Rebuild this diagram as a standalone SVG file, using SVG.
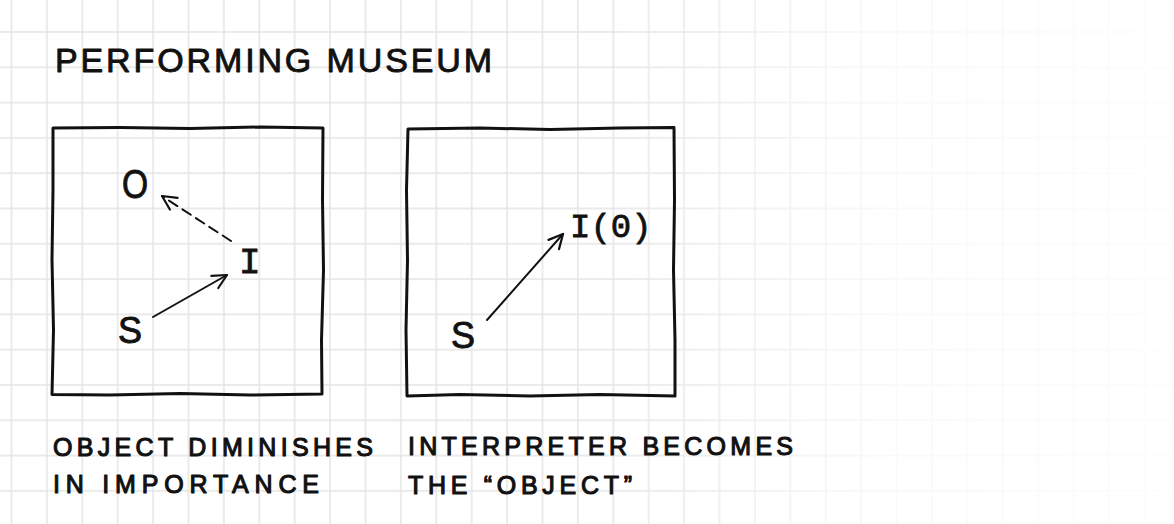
<svg xmlns="http://www.w3.org/2000/svg" width="1174" height="524" viewBox="0 0 1174 524">
<style>
.hand{font-family:"Liberation Sans",Arial,sans-serif;fill:#111;stroke:#111;stroke-width:0.9;stroke-linejoin:round;}
.cap{stroke-width:1.1;}
.mono{font-family:"Liberation Mono","Courier New",monospace;fill:#111;stroke:#111;stroke-width:0.8;}
.box{fill:none;stroke:#111;stroke-width:3;stroke-linejoin:round;stroke-linecap:round;}
.edge{fill:none;stroke:#111;stroke-width:2;stroke-linecap:round;}
</style>
<defs>
<pattern id="grid" patternUnits="userSpaceOnUse" x="10.5" y="31" width="35.4" height="35.3">
<path d="M1 0 V35.3 M0 1 H35.4" stroke="#e4e4e4" stroke-width="1.5" fill="none"/>
</pattern>
<linearGradient id="fade" x1="0" y1="0" x2="1" y2="0">
<stop offset="0" stop-color="#fff" stop-opacity="0"/>
<stop offset="0.5" stop-color="#fff" stop-opacity="0.75"/>
<stop offset="1" stop-color="#fff" stop-opacity="0.9"/>
</linearGradient>
<marker id="open" markerUnits="userSpaceOnUse" markerWidth="30" markerHeight="30" refX="0" refY="0" viewBox="-20 -15 30 30" orient="auto" overflow="visible">
<path d="M-14 -7 L0 0 L-14 7" fill="none" stroke="#111" stroke-width="2.2" stroke-linecap="round" stroke-linejoin="round"/>
</marker>
</defs>
<rect width="1174" height="524" fill="#fff"/>
<rect width="1174" height="524" fill="url(#grid)"/>
<rect x="600" width="574" height="524" fill="url(#fade)"/>

<g id="title">
<text class="hand" x="55" y="72" font-size="34" textLength="437" lengthAdjust="spacing">PERFORMING MUSEUM</text>
</g>

<g id="box-left">
<path class="box" d="M53 128 L120 127.5 L190 128.5 L260 127 L323 128 L322.5 200 L323.5 270 L321.5 340 L322 394 L250 395 L180 393.5 L110 395 L52 394.5 L53.5 330 L52 260 L53 190 Z"/>
</g>
<g id="box-right">
<path class="box" d="M408 129 L480 128 L550 129.5 L620 128 L674 127.5 L674.5 200 L673.5 270 L675 340 L675 396 L600 394.5 L530 396 L460 394.5 L407 396 L406 330 L407.5 260 L406.5 190 Z"/>
</g>

<g id="node-O"><text class="hand" transform="translate(122 198) scale(0.82 1)" font-size="41">O</text></g>
<g id="node-I"><text class="mono" x="239" y="273" font-size="36">I</text></g>
<g id="node-S1"><text class="hand" x="118" y="343" font-size="36">S</text></g>
<g id="node-IO"><text class="mono" x="570" y="237" font-size="34">I(0)</text></g>
<g id="node-S2"><text class="hand" x="451" y="348" font-size="36">S</text></g>

<g id="connectors">
<line class="edge" x1="153" y1="317" x2="227" y2="275" marker-end="url(#open)"/>
<line class="edge" x1="231" y1="241" x2="162" y2="196" stroke-dasharray="10 6" marker-end="url(#open)"/>
<line class="edge" x1="487" y1="320" x2="563" y2="234" marker-end="url(#open)"/>
</g>

<g id="caption-left">
<text class="hand cap" x="53" y="456" font-size="25" textLength="320" lengthAdjust="spacing">OBJECT DIMINISHES</text>
<text class="hand cap" x="53" y="493" font-size="25" textLength="266" lengthAdjust="spacing">IN IMPORTANCE</text>
</g>
<g id="caption-right">
<text class="hand cap" x="408" y="455" font-size="25" textLength="385" lengthAdjust="spacing">INTERPRETER BECOMES</text>
<text class="hand cap" x="408" y="494" font-size="25" textLength="224" lengthAdjust="spacing">THE “OBJECT”</text>
</g>
</svg>
